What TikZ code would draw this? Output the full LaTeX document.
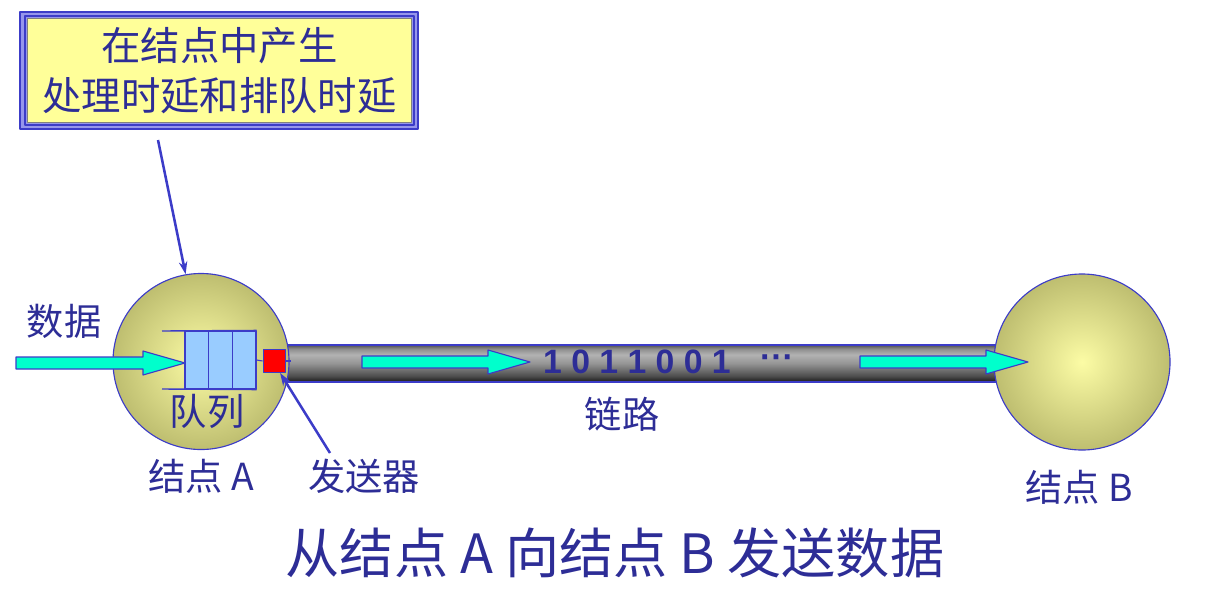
\documentclass[tikz,border=0pt]{standalone}
\usepackage{fontspec}
\setmainfont{Noto Sans CJK SC}
\newfontfamily\digitfont{Liberation Sans}
\usetikzlibrary{arrows.meta}
\definecolor{txtblue}{RGB}{45,45,150}
\definecolor{lnblue}{RGB}{60,60,200}
\definecolor{flowcyan}{RGB}{0,255,204}
\definecolor{cellblue}{RGB}{153,204,255}
\definecolor{noteyellow}{RGB}{255,255,153}
\definecolor{framelav}{RGB}{150,150,235}
\definecolor{ballin}{RGB}{252,252,165}
\definecolor{ballout}{RGB}{190,190,112}
\pgfdeclareverticalshading{tubeshade}{100bp}{color(0bp)=(black!90); color(25bp)=(black!90); color(33bp)=(black!70); color(50bp)=(black!42); color(62bp)=(black!30); color(70bp)=(black!45); color(75bp)=(black!68); color(100bp)=(black!68)}
\begin{document}
\begin{tikzpicture}[x=0.025cm, y=-0.025cm, line join=round, >=Stealth,
  lbl/.style={text=txtblue, font=\fontsize{26.5}{30}\selectfont, inner sep=0pt},
  ball/.style={circle, draw=lnblue, line width=0.8pt, inner color=ballin, outer color=ballout, minimum size=4.4cm, inner sep=0pt},
  cell/.style={rectangle, draw=lnblue, fill=cellblue, line width=0.8pt, minimum width=0.59cm, minimum height=1.45cm, inner sep=0pt},
  flow/.style={draw=lnblue, fill=flowcyan, line width=0.8pt},
  pointer/.style={-{Stealth[length=9pt,width=6pt]}, draw=lnblue, line width=1.8pt}]
\useasboundingbox (0,0) rectangle (1221,598);

% note box
\draw[lnblue, line width=1pt, fill=framelav] (20,12) rectangle (418,129);
\draw[lnblue, line width=0.8pt] (25,16) rectangle (414,125);
\node[draw=gray, fill=noteyellow, line width=0.6pt, minimum width=9.6cm, minimum height=2.6cm, align=center, text=txtblue, font=\fontsize{28}{35.6}\selectfont] (note) at (219.5,70.5) {在结点中产生\\处理时延和排队时延};

% link
\draw[lnblue, line width=0.8pt, shading=tubeshade] (270,345) rectangle (1010,382);

\node[ball] (nodeA) at (201,361.5) {};
\node[ball] (nodeB) at (1082,362) {};

% queue and sender
\foreach \i in {1,2,3}
  \node[cell] (q\i) at ({185+23.7*(\i-0.5)},360) {};
\draw[lnblue, line width=1pt] (162,331) -- (q3.north east);
\draw[lnblue, line width=1pt] (162,389) -- (q3.south east);
\node[rectangle, draw=lnblue, fill=red, line width=0.8pt, minimum size=0.57cm, inner sep=0pt] (sender) at (274.5,361) {};
\draw[lnblue, line width=0.8pt] (q3.east) -- (sender.west);
\draw[lnblue, line width=0.8pt] (sender.east) -- ++(5,0);

% data flow
\foreach \xa/\xb/\yy in {16/185/363, 362/530/362, 860/1028/362}
  \draw[flow] (\xa,\yy-6) -- (\xb-42,\yy-6) -- (\xb-42,\yy-12) -- (\xb,\yy) -- (\xb-42,\yy+12) -- (\xb-42,\yy+6) -- (\xa,\yy+6) -- cycle;

\node[text=txtblue, inner sep=0pt, font=\digitfont\bfseries\fontsize{24}{28}\selectfont] (bits) at (637,362) {1 0 1 1 0 0 1};
\node[text=txtblue, inner sep=0pt, font=\digitfont\bfseries\fontsize{24}{28}\selectfont] (dots) at (777,362) {···};

% labels
\node[lbl] (datalbl) at (64,321) {数据};
\node[lbl] (queuelbl) at (207,411) {队列};
\node[lbl] (alabel) at (201,476) {结点 A};
\node[lbl] (sendlbl) at (364,476) {发送器};
\node[lbl] (linklbl) at (622,414) {链路};
\node[lbl] (blabel) at (1079,487) {结点 B};
\node[text=txtblue, inner sep=0pt, font=\fontsize{38.5}{44}\selectfont] (title) at (615,553) {从结点 A 向结点 B 发送数据};

% pointers
\coordinate (notefoot) at (158,140);
\coordinate (sendfoot) at (330,453);
\draw[pointer] (notefoot) -- (nodeA.100);
\draw[pointer] (sendfoot) -- (sender.-65);
\end{tikzpicture}
\end{document}
